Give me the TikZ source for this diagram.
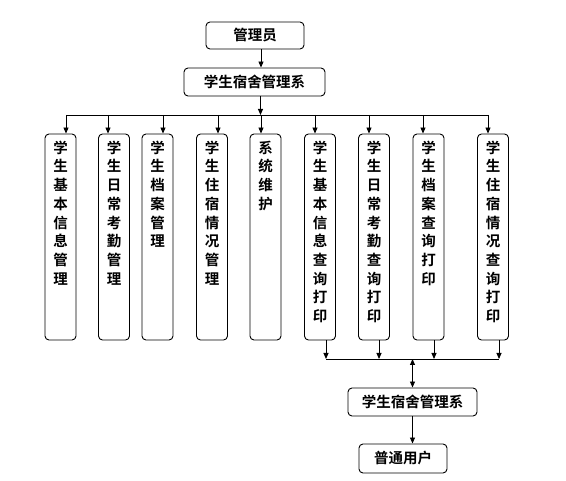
\documentclass[tikz,border=0pt]{standalone}
\usepackage{fontspec}
\newfontfamily\cjk{Noto Sans CJK SC Bold}
\usetikzlibrary{positioning,arrows.meta}

\tikzset{
  box/.style={draw, rounded corners=4pt, line width=0.9pt, inner sep=0pt,
    font=\cjk\fontsize{14.5}{18.7}\selectfont},
  vbox/.style={box, minimum width=31pt, minimum height=206pt},
  vtext/.style={align=center, inner sep=0pt, font=\cjk\fontsize{14.5}{18.7}\selectfont},
  arr/.style={-{Triangle[length=6pt,width=5pt]}, line width=0.9pt},
  arrtwo/.style={{Triangle[length=6pt,width=5pt]}-{Triangle[length=6pt,width=5pt]}, line width=0.9pt}
}

\begin{document}
\begin{tikzpicture}[x=1pt,y=-1pt]
      \useasboundingbox (0,0) rectangle (566,481);

      \node[box, minimum width=98pt, minimum height=27pt] (admin) at (255,35.5) {管理员};
      \node[box, minimum width=141pt, minimum height=28pt] (sys) at (254.5,82) {学生宿舍管理系};

      \node[vbox] (b1) at (60.5,237) {};
      \node[vbox] (b2) at (114,237) {};
      \node[vbox] (b3) at (157.5,237) {};
      \node[vbox] (b4) at (212,237) {};
      \node[vbox] (b5) at (265.5,237) {};
      \node[vbox] (b6) at (320,237) {};
      \node[vbox] (b7) at (374,237) {};
      \node[vbox] (b8) at (428.5,237) {};
      \node[vbox] (b9) at (493,237) {};

      \node[vtext, below=7pt of b1.north] (t1) {学\\生\\基\\本\\信\\息\\管\\理};
      \node[vtext, below=7pt of b2.north] (t2) {学\\生\\日\\常\\考\\勤\\管\\理};
      \node[vtext, below=7pt of b3.north] (t3) {学\\生\\档\\案\\管\\理};
      \node[vtext, below=7pt of b4.north] (t4) {学\\生\\住\\宿\\情\\况\\管\\理};
      \node[vtext, below=7pt of b5.north] (t5) {系\\统\\维\\护};
      \node[vtext, below=7pt of b6.north] (t6) {学\\生\\基\\本\\信\\息\\查\\询\\打\\印};
      \node[vtext, below=7pt of b7.north] (t7) {学\\生\\日\\常\\考\\勤\\查\\询\\打\\印};
      \node[vtext, below=7pt of b8.north] (t8) {学\\生\\档\\案\\查\\询\\打\\印};
      \node[vtext, below=7pt of b9.north] (t9) {学\\生\\住\\宿\\情\\况\\查\\询\\打\\印};

      \node[box, minimum width=129pt, minimum height=28pt] (sys2) at (412.5,402) {学生宿舍管理系};
      \node[box, minimum width=88pt, minimum height=29pt] (user) at (403,458.5) {普通用户};

      % upper bus
      \coordinate (topL) at (66,115);
      \coordinate (topR) at (488,115);
      \draw[arr] ([xshift=6pt]admin.south) -- ([xshift=6pt]admin.south |- sys.north);
      \draw[arr] ([xshift=6pt]sys.south) -- ([xshift=6pt]sys.south |- topL);
      \draw[line width=0.9pt] (topL) -- (topR);
      \foreach \b/\dx in {b1/5.5, b2/-6, b3/5.5, b4/6, b5/-4.5, b6/-5, b7/-5, b8/-5.5, b9/-5}
        \draw[arr] ([xshift=\dx pt]\b.north |- topL) -- ([xshift=\dx pt]\b.north);

      % lower bus
      \coordinate (botL) at (326,359);
      \coordinate (botR) at (499,359);
      \draw[line width=0.9pt] (botL) -- (botR);
      \foreach \b/\dx in {b6/6, b7/5, b8/5.5, b9/6}
        \draw[arr] ([xshift=\dx pt]\b.south) -- ([xshift=\dx pt]\b.south |- botL);
      \draw[arrtwo] (sys2.north |- botL) -- (sys2.north);
      \draw[arr] (sys2.south) -- (sys2.south |- user.north);
    \end{tikzpicture}
\end{document}
